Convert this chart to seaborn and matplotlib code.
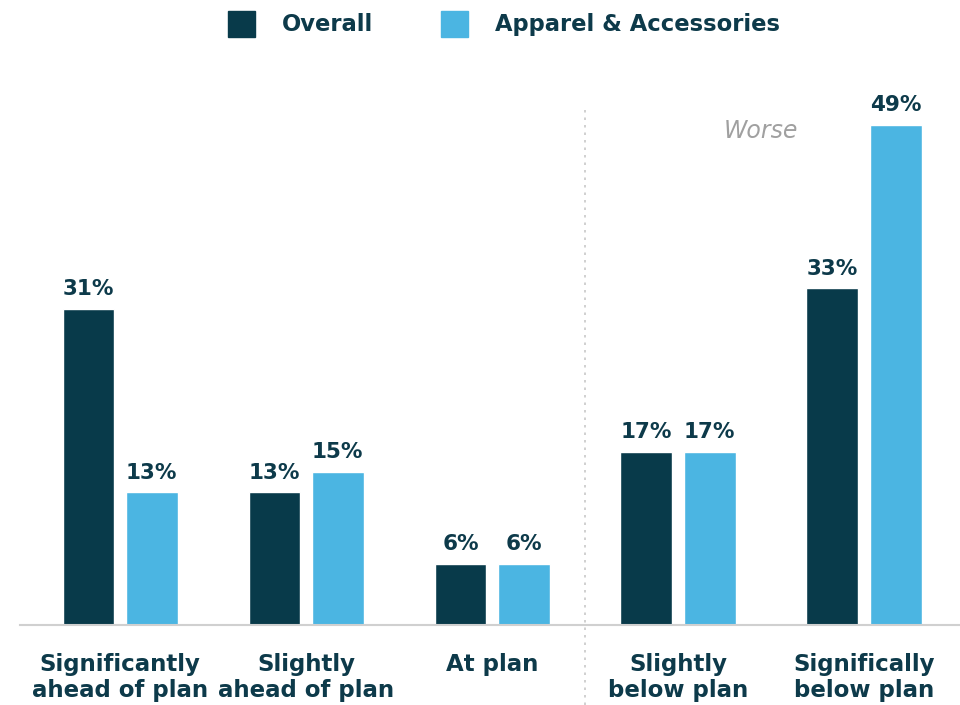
import matplotlib
matplotlib.use("Agg")
import matplotlib.pyplot as plt
import seaborn as sns
import pandas as pd
from matplotlib.patches import Patch

categories = ["Significantly\nahead of plan", "Slightly\nahead of plan", "At plan",
              "Slightly\nbelow plan", "Significally\nbelow plan"]
series_names = ["Overall", "Apparel & Accessories"]
overall = [31, 13, 6, 17, 33]
apparel = [13, 15, 6, 17, 49]

DARK = "#083a4a"
LIGHT = "#4bb5e2"
TEXT = "#0d3a4a"

sns.set_theme(style="white")
plt.rcParams["font.family"] = ["DejaVu Sans"]

df = pd.DataFrame({
    "category": categories * 2,
    "series": [series_names[0]] * 5 + [series_names[1]] * 5,
    "value": overall + apparel,
})

fig = plt.figure(figsize=(9.6, 7.05), dpi=100)
ax = fig.add_axes([20 / 960, 80 / 705, 940 / 960, 530 / 705])

sns.barplot(data=df, x="category", y="value", hue="series", order=categories,
            hue_order=series_names, palette=[DARK, LIGHT], width=0.68, gap=0.18,
            legend=False, ax=ax, saturation=1)

for cont in ax.containers:
    ax.bar_label(cont, labels=[f"{int(v)}%" for v in cont.datavalues], padding=7,
                 fontsize=15.5, fontweight="bold", color=TEXT)

ax.set_xlim(-0.538, 4.516)
ax.set_ylim(0, 51.96)
ax.set_xlabel("")
ax.set_ylabel("")
ax.set_yticks([])
ax.set_xticks(range(len(categories)))
ax.set_xticklabels(categories, fontsize=16.5, fontweight="bold", color=TEXT,
                   linespacing=1.2)
ax.tick_params(axis="x", length=0, pad=20)
for s in ["top", "right", "left"]:
    ax.spines[s].set_visible(False)
ax.spines["bottom"].set_color("#d0d0d0")
ax.spines["bottom"].set_linewidth(1.5)

# dotted divider
ax.plot([2.5, 2.5], [-0.151, 0.981], transform=ax.get_xaxis_transform(),
        color="#c8c8c8", linestyle=(0, (1.5, 3)), linewidth=1.2, clip_on=False)
ax.text(3.446, 48.4, "Worse", fontsize=17, style="italic", color="#a0a0a0",
        ha="center", va="center")

handles = [Patch(color=DARK, label=series_names[0]), Patch(color=LIGHT, label=series_names[1])]
leg = fig.legend(handles=handles, loc="upper center", bbox_to_anchor=(0.525, 1.014), ncol=2,
                 frameon=False, fontsize=16.3, handlelength=1.2, handleheight=1.45,
                 handletextpad=1.2, columnspacing=3.0)
for t in leg.get_texts():
    t.set_color(TEXT)
    t.set_fontweight("bold")

fig.savefig("out.png", dpi=100)
